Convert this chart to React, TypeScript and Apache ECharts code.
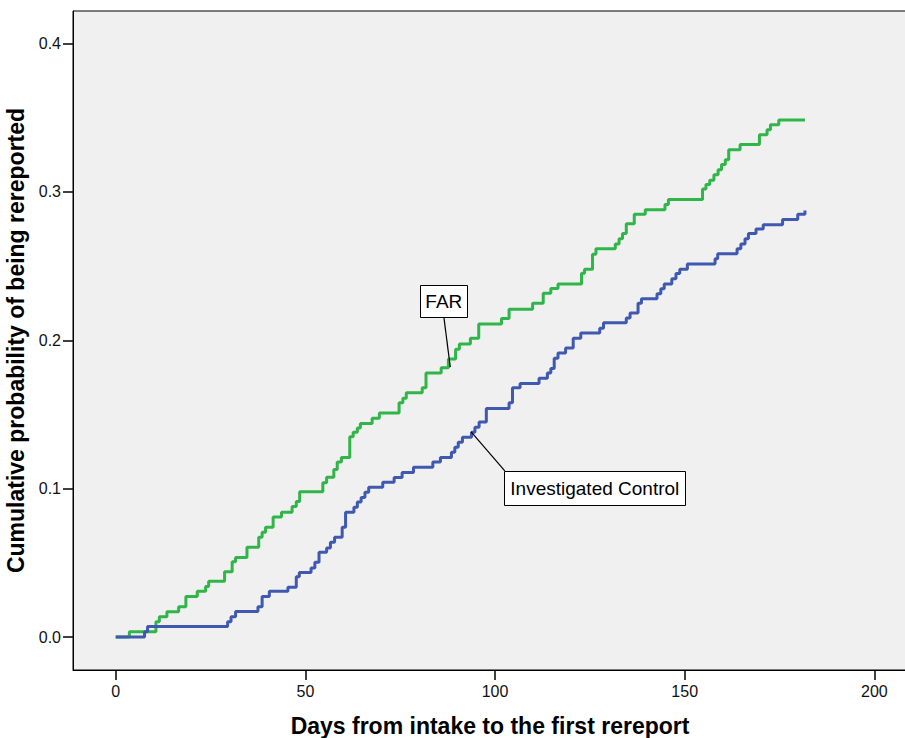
import React, { useEffect, useRef } from "react";
import * as echarts from "echarts";

// Kaplan-Meier style cumulative incidence: event day and cumulative probability after it
const farDays = [
  0, 3.6, 10.6, 11.5, 13.5, 16.6, 18.5, 21.5, 23.7, 24.5, 28.7, 30.7, 31.6, 34.6, 37.7, 38.6,
  39.5, 41.5, 43.7, 46.5, 47.6, 48.5, 54.6, 55.6, 57.5, 58.4, 59.5, 61.7, 62.6, 63.7, 64.5,
  67.6, 69.5, 74.7, 75.7, 76.6, 80.8, 81.8, 85.8, 87.7, 89.6, 90.6, 93.5, 95.7, 101.7, 103.7,
  109.9, 112.7, 114.7, 116.6, 122.8, 123.6, 125.7, 126.6, 131.7, 132.7, 133.6, 134.6, 136.7,
  139.6, 144.8, 145.7, 154.7, 155.6, 156.6, 157.7, 158.8, 159.7, 160.7, 161.6, 164.6, 169.7,
  171.7, 172.6, 174.8, 181.7,
];
const farProb = [
  0, 0.0036, 0.0103, 0.0137, 0.017, 0.0204, 0.0274, 0.0308, 0.034, 0.0376, 0.044, 0.0508,
  0.0537, 0.0605, 0.0672, 0.0706, 0.074, 0.081, 0.0841, 0.088, 0.0913, 0.098, 0.104, 0.1077,
  0.113, 0.118, 0.121, 0.135, 0.138, 0.141, 0.144, 0.1475, 0.151, 0.158, 0.161, 0.1646, 0.168,
  0.178, 0.1815, 0.1875, 0.194, 0.1976, 0.2015, 0.211, 0.2148, 0.221, 0.225, 0.2318, 0.235,
  0.238, 0.2453, 0.248, 0.258, 0.2617, 0.265, 0.2685, 0.272, 0.2786, 0.285, 0.288, 0.2916,
  0.295, 0.302, 0.305, 0.308, 0.3116, 0.315, 0.3186, 0.3218, 0.3285, 0.332, 0.3386, 0.342,
  0.3454, 0.3485, 0.3485,
];

const icDays = [
  0, 7.6, 8.4, 29.5, 30.4, 31.6, 37.5, 38.6, 40.5, 45.4, 47.6, 48.4, 51.5, 52.5, 53.6, 55.6,
  56.6, 57.7, 59.7, 60.6, 62.8, 63.7, 64.7, 65.7, 66.7, 70.4, 73.4, 75.5, 78.5, 83.6, 85.6,
  88.5, 89.4, 90.3, 91.4, 93.8, 94.7, 95.8, 97.7, 103.7, 104.6, 106.6, 111.6, 113.8, 114.7,
  115.6, 116.6, 118.6, 120.6, 122.6, 127.6, 128.6, 134.6, 135.6, 137.7, 138.6, 142.7, 143.7,
  144.6, 146.6, 147.7, 148.7, 150.7, 158.0, 158.7, 163.8, 164.8, 165.9, 166.8, 168.8, 170.7,
  175.8, 179.8, 181.7,
];
const icProb = [
  0, 0.0036, 0.0072, 0.0103, 0.0137, 0.0173, 0.0204, 0.0274, 0.0308, 0.0335, 0.0407, 0.0436,
  0.0465, 0.0504, 0.0571, 0.06, 0.0639, 0.0672, 0.074, 0.0841, 0.0875, 0.091, 0.094, 0.0976,
  0.101, 0.1043, 0.1075, 0.111, 0.1145, 0.118, 0.121, 0.1246, 0.128, 0.1313, 0.1347, 0.138,
  0.1414, 0.145, 0.154, 0.158, 0.168, 0.171, 0.1745, 0.178, 0.181, 0.188, 0.1914, 0.1948,
  0.2015, 0.205, 0.2082, 0.2118, 0.215, 0.2184, 0.225, 0.228, 0.2314, 0.2347, 0.238, 0.2415,
  0.245, 0.248, 0.2514, 0.255, 0.2583, 0.2617, 0.265, 0.2685, 0.272, 0.275, 0.278, 0.2815,
  0.285, 0.2876,
];

const xTicks = [0, 50, 100, 150, 200];
const yTicks = [0, 0.1, 0.2, 0.3, 0.4];

// Callout labels: box centre and leader tip in data units
const callouts = [
  { text: "FAR", center: [86.5, 0.2266], tip: [88.2, 0.182], w: 47, h: 32, from: [0, 16] },
  {
    text: "Investigated Control",
    center: [126.3, 0.1005],
    tip: [93.7, 0.1383],
    w: 181,
    h: 34,
    from: [-90, -17],
  },
];

const FONT = 'Arial, "Liberation Sans", Helvetica, sans-serif';

export default function App() {
  const ref = useRef<HTMLDivElement>(null);

  useEffect(() => {
    document.body.style.margin = "0";
    const chart = echarts.init(ref.current!, null, { renderer: "svg" });
    const toPairs = (d: number[], p: number[]) => d.map((v, i) => [v, p[i]]);

    chart.setOption({
      animation: false,
      backgroundColor: "#ffffff",
      grid: {
        left: 73,
        top: 11,
        right: -2,
        bottom: 68,
        outerBoundsMode: "none",
        containLabel: false,
        show: true,
        backgroundColor: "#f0f0f0",
        borderColor: "#000",
        borderWidth: 1,
      },
      xAxis: {
        type: "value",
        min: -11.26,
        max: 208.6,
        name: "Days from intake to the first rereport",
        nameLocation: "middle",
        nameGap: 44,
        nameTextStyle: { fontFamily: FONT, fontSize: 23, fontWeight: "bold", color: "#000" },
        axisLine: { show: true, onZero: false, lineStyle: { color: "#000", width: 1 } },
        axisTick: { show: true, length: 10, customValues: xTicks, lineStyle: { color: "#000", width: 1.5 } },
        axisLabel: {
          customValues: xTicks,
          margin: 13,
          fontFamily: FONT,
          fontSize: 16,
          color: "#111",
        },
        splitLine: { show: false },
      },
      yAxis: {
        type: "value",
        min: -0.0222,
        max: 0.422,
        name: "Cumulative probability of being rereported",
        nameLocation: "middle",
        nameGap: 36,
        nameTextStyle: { fontFamily: FONT, fontSize: 23, fontWeight: "bold", color: "#000" },
        axisLine: { show: true, onZero: false, lineStyle: { color: "#000", width: 1 } },
        axisTick: { show: true, length: 10, customValues: yTicks, lineStyle: { color: "#000", width: 1.5 } },
        axisLabel: {
          customValues: yTicks,
          margin: 12,
          fontFamily: FONT,
          fontSize: 16,
          color: "#111",
          formatter: (v: number) => v.toFixed(1),
        },
        splitLine: { show: false },
      },
      series: [
        {
          name: "FAR",
          type: "line",
          step: "end",
          showSymbol: false,
          data: toPairs(farDays, farProb),
          lineStyle: { color: "#2fb548", width: 3 },
          itemStyle: { color: "#2fb548" },
        },
        {
          name: "Investigated Control",
          type: "line",
          step: "end",
          showSymbol: false,
          data: toPairs(icDays, icProb),
          lineStyle: { color: "#3f58b0", width: 3 },
          itemStyle: { color: "#3f58b0" },
        },
      ],
    });

    const graphic: any[] = [];
    callouts.forEach((c) => {
      const [cx, cy] = chart.convertToPixel({ gridIndex: 0 }, c.center) as number[];
      const [tx, ty] = chart.convertToPixel({ gridIndex: 0 }, c.tip) as number[];
      graphic.push({
        type: "line",
        z: 100,
        shape: { x1: cx + c.from[0], y1: cy + c.from[1], x2: tx, y2: ty },
        style: { stroke: "#000", lineWidth: 1.2 },
      });
      graphic.push({
        type: "rect",
        z: 101,
        shape: { x: Math.round(cx - c.w / 2) + 0.5, y: Math.round(cy - c.h / 2) + 0.5, width: c.w, height: c.h },
        style: { fill: "#fff", stroke: "#000", lineWidth: 1 },
      });
      graphic.push({
        type: "text",
        z: 102,
        x: cx,
        y: cy + 1,
        style: {
          text: c.text,
          fontFamily: FONT,
          fontSize: 19,
          fill: "#000",
          align: "center",
          verticalAlign: "middle",
        },
      });
    });
    chart.setOption({ graphic });

    return () => chart.dispose();
  }, []);

  return <div ref={ref} style={{ width: 905, height: 738 }} />;
}
